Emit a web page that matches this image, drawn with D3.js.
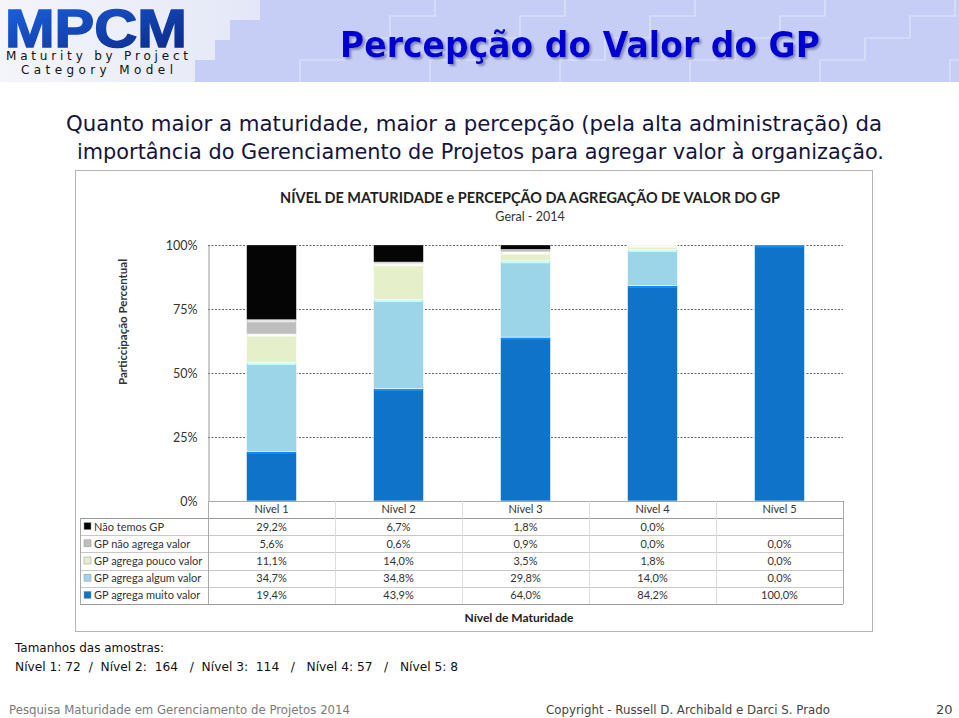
<!DOCTYPE html>
<html><head><meta charset="utf-8">
<script src="https://cdn.jsdelivr.net/npm/d3@7"></script>
<style>body{margin:0;background:#fff}svg{display:block}</style>
</head><body>
<svg id="c" width="959" height="718"></svg>
<script>
const levels = ["Nível 1","Nível 2","Nível 3","Nível 4","Nível 5"];
const seriesNames = ["GP agrega muito valor","GP agrega algum valor","GP agrega pouco valor","GP não agrega valor","Não temos GP"];
const muito   = [19.4, 43.9, 64.0, 84.2, 100.0];
const algum   = [34.7, 34.8, 29.8, 14.0, 0.0];
const pouco   = [11.1, 14.0, 3.5, 1.8, 0.0];
const naoAgr  = [5.6, 0.6, 0.9, 0.0, 0.0];
const naoTemos= [29.2, 6.7, 1.8, 0.0, null];
const yTicks = [0, 0.25, 0.5, 0.75, 1];
const sampleSizes = [72, 164, 114, 57, 8];
const colors = ["#0f73c9","#9dd5e8","#e5efc9","#bebebe","#050505"];

const seriesVals = [muito, algum, pouco, naoAgr, naoTemos];
const svg = d3.select("#c");
const defs = svg.append("defs");
const sh = defs.append("filter").attr("id","sh").attr("x","-5%").attr("y","-20%").attr("width","110%").attr("height","150%");
sh.append("feDropShadow").attr("dx",2).attr("dy",2).attr("stdDeviation",1).attr("flood-color","#7a80a8").attr("flood-opacity",0.9);

// header band
svg.append("rect").attr("x",0).attr("y",0).attr("width",959).attr("height",82).attr("fill","#c6cef6");
const lg = defs.append("linearGradient").attr("id","lg");
lg.append("stop").attr("offset","0").attr("stop-color","#f4f5fb");
lg.append("stop").attr("offset","1").attr("stop-color","#e4e7f7");
svg.append("path").attr("d","M0,0H260V20H230V40H215V60H195V82H0Z").attr("fill","url(#lg)");
const stairs = [[300,82],[430,82],[560,82],[690,82],[820,82],[950,82]];
stairs.forEach(([sx,sy])=>{
  let d=`M${sx},${sy}`; let x=sx,y=sy;
  for(let i=0;i<4;i++){ y-=22; d+=`V${y}`; x+=45; d+=`H${x}`; }
  svg.append("path").attr("d",d).attr("fill","none").attr("stroke","#e6eafb").attr("stroke-width",1.2).attr("opacity",0.8);
});

// logo
const mg = defs.append("linearGradient").attr("id","mg").attr("x1",0).attr("y1",0).attr("x2",1).attr("y2",1);
mg.append("stop").attr("offset","0").attr("stop-color","#1d64e6");
mg.append("stop").attr("offset","1").attr("stop-color","#0a2580");
svg.append("text").attr("x",5).attr("y",47).attr("font-family","Liberation Sans, Arial, sans-serif").attr("font-weight","bold")
  .attr("font-size",54).attr("fill","url(#mg)").attr("stroke","url(#mg)").attr("stroke-width",1.5)
  .attr("textLength",182).attr("lengthAdjust","spacingAndGlyphs").text("MPCM");
svg.append("text").attr("x",6).attr("y",60).attr("font-family","DejaVu Sans, sans-serif").attr("font-size",12)
  .attr("fill","#111").attr("textLength",182).attr("lengthAdjust","spacing").text("Maturity by Project");
svg.append("text").attr("x",21).attr("y",74).attr("font-family","DejaVu Sans, sans-serif").attr("font-size",12)
  .attr("fill","#111").attr("textLength",152).attr("lengthAdjust","spacing").text("Category Model");

// title
svg.append("text").attr("x",340).attr("y",57).attr("font-family","DejaVu Sans, Verdana, sans-serif").attr("font-weight","bold")
  .attr("font-size",36).attr("fill","#0000d0").attr("filter","url(#sh)").attr("textLength",480).attr("lengthAdjust","spacingAndGlyphs").text("Percepção do Valor do GP");

// subtitle
const tf = "DejaVu Sans, Verdana, sans-serif";
svg.append("text").attr("x",66).attr("y",131).attr("font-family",tf).attr("font-size",21)
  .attr("fill","#14143c").attr("textLength",816).attr("lengthAdjust","spacingAndGlyphs").text("Quanto maior a maturidade, maior a percepção (pela alta administração)  da");
svg.append("text").attr("x",77).attr("y",159).attr("font-family",tf).attr("font-size",21)
  .attr("fill","#14143c").attr("textLength",807).attr("lengthAdjust","spacingAndGlyphs").text("importância do Gerenciamento de Projetos para agregar valor à organização.");

// chart frame
svg.append("rect").attr("x",75.5).attr("y",170.5).attr("width",797).attr("height",461).attr("fill","#fff").attr("stroke","#b5b5b5");
const cf = "Lato, 'Open Sans', sans-serif";
svg.append("text").attr("x",530).attr("y",203).attr("text-anchor","middle").attr("font-family",cf).attr("font-weight","bold")
  .attr("font-size",14.5).attr("fill","#222").attr("textLength",500).attr("lengthAdjust","spacingAndGlyphs").text("NÍVEL DE MATURIDADE e PERCEPÇÃO DA AGREGAÇÃO DE VALOR DO GP");
svg.append("text").attr("x",530).attr("y",221).attr("text-anchor","middle").attr("font-family",cf)
  .attr("font-size",12.5).attr("fill","#333").text("Geral - 2014");

const y = d3.scaleLinear().domain([0,1]).range([501,245]);
const x = d3.scaleBand().domain(levels).range([208,843]).paddingInner(0.606).paddingOuter(0.303);
const xc = d3.scaleBand().domain(levels).range([208,843]).padding(0);

svg.append("g").selectAll("line").data(yTicks.filter(t=>t>0)).join("line")
  .attr("x1",208).attr("x2",843).attr("y1",d=>y(d)+0.5).attr("y2",d=>y(d)+0.5)
  .attr("stroke","#555").attr("stroke-dasharray","2,1.5").attr("stroke-width",0.9);

const yAxis = d3.axisLeft(y).tickValues(yTicks).tickFormat(d3.format(".0%")).tickSize(0).tickPadding(11);
const ga = svg.append("g").attr("transform","translate(208.5,0)").call(yAxis);
ga.select(".domain").attr("stroke","#999");
ga.selectAll("text").attr("font-family",cf).attr("font-size",12.5).attr("fill","#333");
svg.append("text").attr("transform","translate(127,322) rotate(-90)").attr("text-anchor","middle").attr("font-family",cf)
  .attr("font-weight","bold").attr("font-size",11.5).attr("fill","#333").text("Particcipação Percentual");

const stackData = levels.map((lv,i)=>{ const o={level:lv}; seriesNames.forEach((s,j)=>o[s]=(seriesVals[j][i]||0)/100); return o; });
const stack = d3.stack().keys(seriesNames)(stackData);
stack.forEach((layer,j)=>{
  const g = svg.append("g");
  g.selectAll("rect").data(layer).join("rect")
    .attr("x",d=>x(d.data.level)).attr("width",x.bandwidth())
    .attr("y",d=>y(d[1])).attr("height",d=>Math.max(0,y(d[0])-y(d[1])))
    .attr("fill",colors[j]).attr("stroke",d=>(d[1]-d[0])>0?"#ffffff":"none").attr("stroke-width",0.8).attr("stroke-opacity",0.7);
  g.selectAll("line").data(layer.filter(d=>d[1]-d[0]>0.01)).join("line")
    .attr("x1",d=>x(d.data.level)+1).attr("x2",d=>x(d.data.level)+x.bandwidth()-1)
    .attr("y1",d=>y(d[1])+1.5).attr("y2",d=>y(d[1])+1.5)
    .attr("stroke",d3.color(colors[j]).brighter(0.6)).attr("stroke-width",2);
});

const rowOrder = [4,3,2,1,0];
const rowTop = 518, rowH = 17.2;
const tg = svg.append("g");
tg.append("line").attr("x1",208).attr("x2",843).attr("y1",501.5).attr("y2",501.5).attr("stroke","#aaa");
levels.forEach((lv,i)=>{
  tg.append("text").attr("x",xc(lv)+xc.bandwidth()/2).attr("y",513).attr("text-anchor","middle")
    .attr("font-family",cf).attr("font-size",11).attr("fill","#333").text(lv);
});
for(let k=0;k<=5;k++){
  tg.append("line").attr("x1",80).attr("x2",843).attr("y1",Math.round(rowTop+k*rowH)+0.5).attr("y2",Math.round(rowTop+k*rowH)+0.5)
    .attr("stroke",(k===0||k===5)?"#999":"#c8c8c8");
}
levels.concat(["end"]).forEach((lv,i)=>{
  const xx = 208+i*xc.step();
  tg.append("line").attr("x1",Math.round(xx)+0.5).attr("x2",Math.round(xx)+0.5).attr("y1",501).attr("y2",rowTop+5*rowH)
    .attr("stroke",i===0||i===5?"#aaa":"#ddd");
});
tg.append("line").attr("x1",80.5).attr("x2",80.5).attr("y1",rowTop).attr("y2",rowTop+5*rowH).attr("stroke","#aaa");
const fmt = v => v==null ? "" : v.toFixed(1).replace(".",",")+"%";
rowOrder.forEach((j,r)=>{
  const cy = rowTop + r*rowH + rowH/2 + 4;
  tg.append("rect").attr("x",84).attr("y",cy-8).attr("width",7).attr("height",7).attr("fill",colors[j]).attr("stroke","#999").attr("stroke-width",0.5);
  tg.append("text").attr("x",94).attr("y",cy).attr("font-family",cf).attr("font-size",11).attr("fill","#333").text(seriesNames[j]);
  levels.forEach((lv,i)=>{
    tg.append("text").attr("x",xc(lv)+xc.bandwidth()/2).attr("y",cy).attr("text-anchor","middle")
      .attr("font-family",cf).attr("font-size",11).attr("fill","#333").text(fmt(seriesVals[j][i]));
  });
});
svg.append("text").attr("x",519).attr("y",622).attr("text-anchor","middle").attr("font-family",cf).attr("font-weight","bold")
  .attr("font-size",12).attr("fill","#222").text("Nível de Maturidade");

svg.append("text").attr("x",15).attr("y",652).attr("font-family",tf).attr("font-size",12).attr("fill","#111")
  .attr("textLength",149).attr("lengthAdjust","spacingAndGlyphs").text("Tamanhos das amostras:");
const sTxt = `Nível 1: ${sampleSizes[0]}  /  Nível 2:  ${sampleSizes[1]}   /  Nível 3:  ${sampleSizes[2]}   /   Nível 4: ${sampleSizes[3]}   /   Nível 5: ${sampleSizes[4]}`;
svg.append("text").attr("x",15).attr("y",671).attr("font-family",tf).attr("font-size",12).attr("fill","#111")
  .attr("xml:space","preserve").style("white-space","pre")
  .attr("textLength",443).attr("lengthAdjust","spacingAndGlyphs").text(sTxt);

svg.append("text").attr("x",9).attr("y",714).attr("font-family",tf).attr("font-size",13).attr("fill","#7a7a7a")
  .attr("textLength",341).attr("lengthAdjust","spacingAndGlyphs").text("Pesquisa Maturidade em Gerenciamento de Projetos 2014");
svg.append("text").attr("x",546).attr("y",714).attr("font-family",tf).attr("font-size",13).attr("fill","#444")
  .attr("textLength",284).attr("lengthAdjust","spacingAndGlyphs").text("Copyright - Russell D. Archibald e Darci S. Prado");
svg.append("text").attr("x",936).attr("y",714).attr("font-family",tf).attr("font-size",13).attr("fill","#444").text("20");
</script>
</body></html>
